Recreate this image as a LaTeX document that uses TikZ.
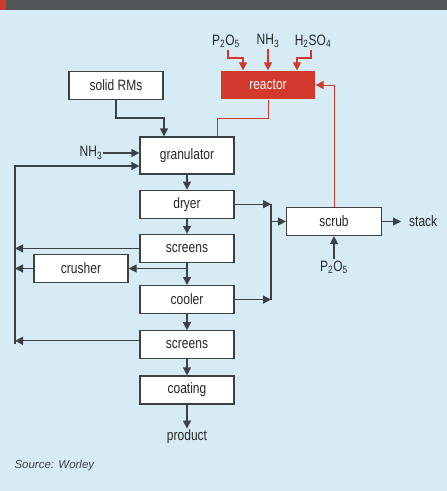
\documentclass[tikz,border=0pt]{standalone}
\usepackage{fontspec}
\setmainfont[FakeStretch=0.8]{Liberation Sans}
\newfontfamily\srcfont{Liberation Sans}
\usetikzlibrary{arrows.meta, positioning}
\definecolor{panel}{RGB}{215,235,245}
\definecolor{ink}{RGB}{60,65,70}
\definecolor{hotred}{RGB}{210,56,43}
\definecolor{headbar}{RGB}{83,87,90}

\begin{document}
\begin{tikzpicture}[x=1pt, y=-1pt,
        node distance=15pt,
        unit/.style={rectangle, draw=ink, line width=1.2pt, fill=white,
                     minimum width=94pt, minimum height=28pt, inner sep=0pt,
                     font=\fontsize{15}{17}\selectfont, text=black!85},
        tag/.style={inner sep=1pt, font=\fontsize{15}{17}\selectfont, text=black!85},
        arrow/.style={-{Triangle[length=8pt, width=8pt]}, line width=1.2pt, color=ink},
        feed/.style={-{Triangle[length=8pt, width=8pt]}, line width=1.2pt, color=hotred},
    ]
        % panel and header strip
        \fill[panel] (0,0) rectangle (447,491);
        \fill[headbar] (0,0) rectangle (447,10);
        \fill[hotred] (0,0) rectangle (6,10);
        \useasboundingbox (0,0) rectangle (447,491);

        % main process column
        \node[unit, minimum height=37pt] (gran) at (187,155.5) {granulator};
        \node[unit, below=of gran] (dryer) {dryer};
        \node[unit, below=of dryer] (screensA) {screens};
        \node[unit, below=22pt of screensA] (cooler) {cooler};
        \node[unit, below=16pt of cooler] (screensB) {screens};
        \node[unit, below=16pt of screensB] (coating) {coating};
        \node[tag, below=24pt of coating] (product) {product};

        % side units
        \node[unit] (rms) at (116,85.5) {solid RMs};
        \node[unit, fill=hotred, draw=none, text=white] (reactor) at (268,85) {reactor};
        \node[unit] (crusher) at (81,268.5) {crusher};
        \node[unit, minimum width=95pt] (scrub) at (334,221.5) {scrub};
        \node[tag, anchor=west] (stack) at (408,221.5) {stack};

        % feeds
        \node[tag] (pfeed) at (226,41) {P\textsubscript{2}O\textsubscript{5}};
        \node[tag] (nfeed) at (268,41) {NH\textsubscript{3}};
        \node[tag] (sfeed) at (313,41) {H\textsubscript{2}SO\textsubscript{4}};
        \node[tag] (ngran) at (91,153) {NH\textsubscript{3}};
        \node[tag] (pscrub) at (334,267) {P\textsubscript{2}O\textsubscript{5}};

        \draw[feed] (228,50) |- (243,58) -- ([xshift=-25pt]reactor.north);
        \draw[feed] (nfeed.south) -- (reactor.north);
        \draw[feed] (311,50) |- (297,58) -- ([xshift=29pt]reactor.north);
        \draw[hotred, line width=0.9pt] (reactor.south) -- (reactor.south |- 0,118)
            -| ([xshift=30pt]gran.north);
        \draw[feed, line width=0.9pt] (scrub.north) |- (reactor.east);

        % into granulator
        \draw[arrow] (rms.south) |- (164,118) -- (164,118 |- gran.north);
        \draw[arrow] (ngran.east) -- (ngran.east -| gran.west);
        \coordinate (rtop) at (15,166);
        \coordinate (rbot) at (15,344);
        \draw[arrow] (rbot) -- (rtop) -- (rtop -| gran.west);

        % down the column
        \draw[arrow] (gran) -- (dryer);
        \draw[arrow] (dryer) -- (screensA);
        \draw[arrow] (screensA) -- (cooler);
        \draw[arrow] (cooler) -- (screensB);
        \draw[arrow] (screensB) -- (coating);
        \draw[arrow] (coating) -- (product);

        % recycle
        \draw[arrow] (screensA.west) -- (screensA.west -| rtop);
        \draw[arrow] (screensA.south |- crusher.east) -- (crusher.east);
        \draw[arrow] (crusher.west) -- (crusher.west -| rtop);
        \draw[arrow] ([yshift=4pt]screensB.west) -- ([yshift=4pt]screensB.west -| rtop);

        % off-gas to scrubber
        \coordinate (jn) at (271,221.5);
        \draw[arrow] (dryer.east) -- (dryer.east -| jn);
        \draw[arrow] (cooler.east) -- (cooler.east -| jn);
        \draw[ink, line width=1.2pt] (jn |- dryer.east) -- (jn |- cooler.east);
        \draw[arrow] (jn) -- (scrub.west);
        \draw[arrow, shorten >=7pt] (scrub.east) -- (stack.west);
        \draw[arrow] (pscrub.north) -- (scrub.south);

        \node[anchor=west, font=\srcfont\itshape\fontsize{11.5}{13}\selectfont, text=black!75]
            (source) at (11,466) {Source: Worley};
    \end{tikzpicture}
\end{document}
